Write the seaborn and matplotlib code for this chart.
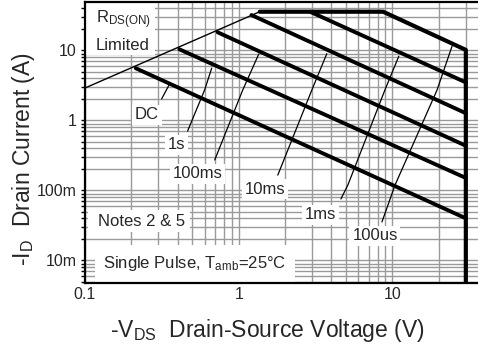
import numpy as np
import pandas as pd
import matplotlib
matplotlib.use("Agg")
import matplotlib.pyplot as plt
import seaborn as sns
from matplotlib.ticker import FixedLocator, FixedFormatter, LogLocator, NullFormatter
from matplotlib.patches import Rectangle

# ---------------- data ----------------
rds_v = [0.1, 1.37]            # R_DS(on) limit line
rds_i = [2.91, 35.8]
outline_v = [1.37, 8.7, 30.0, 30.0]   # current limit, 100us, BVdss
outline_i = [35.8, 35.8, 10.2, 0.001]
pulse_names = ["DC", "1s", "100ms", "10ms", "1ms"]
pulse_v0 = [0.214, 0.411, 0.729, 1.21, 2.91]
pulse_i0 = [5.57, 10.4, 18.2, 32.1, 35.8]
pulse_v1 = [30.0, 30.0, 30.0, 30.0, 30.0]
pulse_i1 = [0.040, 0.151, 0.436, 1.27, 3.5]
x_ticks = [0.1, 1, 10]
x_ticklabels = ["0.1", "1", "10"]
y_ticks = [0.01, 0.1, 1, 10]
y_ticklabels = ["10m", "100m", "1", "10"]

# ---------------- layout (label placement) ----------------
label_pos = {
    "DC": (0.2535, 1.198),
    "1s": (0.3945, 0.447),
    "100ms": (0.541, 0.172),
    "10ms": (1.477, 0.105),
    "1ms": (3.42, 0.0447),
    "100us": (7.69, 0.0224),
}
leaders = {
    "DC": [(0.315, 2.03), (0.355, 3.32)],
    "1s": [(0.465, 0.708), (0.60, 2.73), (0.667, 5.6)],
    "100ms": [(0.698, 0.273), (1.062, 2.73), (1.35, 8.9)],
    "10ms": [(1.795, 0.166), (2.99, 2.73), (3.74, 9.0)],
    "1ms": [(4.62, 0.0757), (5.13, 0.12), (8.93, 2.73), (11.0, 8.3)],
    "100us": [(8.54, 0.0355), (10.4, 0.12), (19.5, 2.73), (24.4, 11.5)],
}

sns.set_style("white")
plt.rcParams["font.family"] = ["Liberation Sans", "DejaVu Sans"]
plt.rcParams["mathtext.fontset"] = "custom"
plt.rcParams["mathtext.rm"] = "Liberation Sans"
plt.rcParams["mathtext.it"] = "Liberation Sans:italic"
plt.rcParams["mathtext.bf"] = "Liberation Sans:bold"
plt.rcParams["mathtext.default"] = "regular"

W, H = 478, 346
fig = plt.figure(figsize=(W / 100, H / 100), dpi=100)
L, R, T, B = 85, 478, 2, 283.3
ax = fig.add_axes([L / W, (H - B) / H, (R - L) / W, (B - T) / H])
ax.set_xscale("log")
ax.set_yscale("log")

# thin R_DS(on) line
sns.lineplot(x=rds_v, y=rds_i, ax=ax, color="black", lw=1.0,
             estimator=None, sort=False, zorder=3)
# outline
sns.lineplot(x=outline_v, y=outline_i, ax=ax, color="black", lw=3.0,
             estimator=None, sort=False, zorder=3)
# pulse lines
rows = []
for n, a, b, c, d in zip(pulse_names, pulse_v0, pulse_i0, pulse_v1, pulse_i1):
    rows.append((n, a, b, 0))
    rows.append((n, c, d, 1))
df = pd.DataFrame(rows, columns=["curve", "V", "I", "k"])
sns.lineplot(data=df, x="V", y="I", units="curve", estimator=None, sort=False,
             color="black", lw=2.8, ax=ax, zorder=3)

# leader lines
for name, pts in leaders.items():
    xs = [p[0] for p in pts]
    ys = [p[1] for p in pts]
    ax.plot(xs, ys, color="black", lw=0.9, zorder=3)

fs = 12
for name, (vx, iy) in label_pos.items():
    ax.text(vx, iy, name, fontsize=fs, ha="center", va="center", zorder=2.6,
            bbox=dict(facecolor="white", edgecolor="none", pad=2.0))

def axf(px, py):
    return (px - L) / (R - L), (B - py) / (B - T)

# white boxes
def wbox(x0, y0, x1, y1):
    a0 = axf(x0, y1)
    a1 = axf(x1, y0)
    ax.add_patch(Rectangle(a0, a1[0] - a0[0], a1[1] - a0[1], transform=ax.transAxes,
                           facecolor="white", edgecolor="none", zorder=1.5))

wbox(85, 2, 155, 55)
wbox(88, 210, 190, 232)
wbox(95, 245, 295, 282)

ax.text(*axf(96, 23), r"R$_{\mathrm{DS(ON)}}$", transform=ax.transAxes, fontsize=fs,
        ha="left", va="baseline", zorder=2.6)
ax.text(*axf(96, 50), "Limited", transform=ax.transAxes, fontsize=fs,
        ha="left", va="baseline", zorder=2.6)
ax.text(*axf(98, 226), "Notes 2 & 5", transform=ax.transAxes, fontsize=fs,
        ha="left", va="baseline", zorder=2.6)
ax.text(*axf(103, 268), r"Single Pulse, T$_{\mathrm{amb}}$=25°C", transform=ax.transAxes,
        fontsize=fs, ha="left", va="baseline", zorder=2.6)

ax.set_xlim(0.1, 36)
ax.set_ylim(0.00472, 49.3)
ax.xaxis.set_major_locator(FixedLocator(x_ticks))
ax.xaxis.set_major_formatter(FixedFormatter(x_ticklabels))
ax.yaxis.set_major_locator(FixedLocator(y_ticks))
ax.yaxis.set_major_formatter(FixedFormatter(y_ticklabels))
ax.xaxis.set_minor_locator(LogLocator(base=10, subs=np.arange(2, 10)))
ax.yaxis.set_minor_locator(LogLocator(base=10, subs=np.arange(2, 10)))
ax.xaxis.set_minor_formatter(NullFormatter())
ax.yaxis.set_minor_formatter(NullFormatter())
ax.grid(True, which="both", color="#9a9a9a", lw=1.0)
ax.set_axisbelow(True)
ax.tick_params(axis="y", which="both", direction="out", length=3, width=1,
               color="black", labelsize=11.5, pad=3, left=True)
ax.tick_params(axis="x", which="both", length=0, labelsize=11.5, pad=3)
for s in ["left", "bottom", "top"]:
    ax.spines[s].set_linewidth(1.6)
    ax.spines[s].set_color("black")
ax.spines["right"].set_visible(False)
ax.set_xlabel("")
ax.set_ylabel("")

fig.text(24 / W, 1 - 159 / H, r"-I$_{\mathrm{D}}$  Drain Current (A)", rotation=90,
         fontsize=16.5, ha="center", va="center")
fig.text(267.5 / W, 1 - 337 / H, r"-V$_{\mathrm{DS}}$  Drain-Source Voltage (V)",
         fontsize=16.5, ha="center", va="baseline")

fig.savefig("out.png", dpi=100)
